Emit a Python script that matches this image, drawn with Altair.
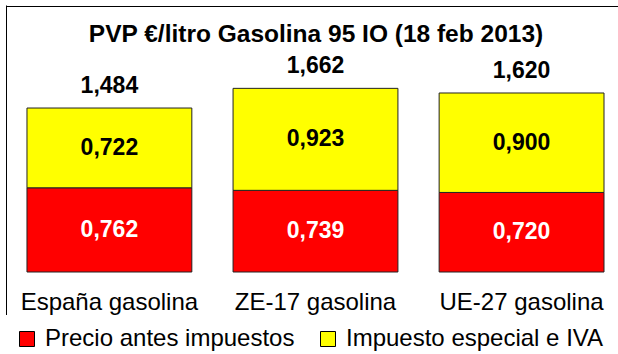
import altair as alt
import pandas as pd

# Retail fuel price per litre, split into pre-tax price and taxes
categories = ["España gasolina", "ZE-17 gasolina", "UE-27 gasolina"]
precio_antes = [0.762, 0.739, 0.720]
impuestos = [0.722, 0.923, 0.900]
componentes = ["Precio antes impuestos", "Impuesto especial e IVA"]
colores = ["#FF0000", "#FFFF00"]


def fmt(v):
    return f"{v:.3f}".replace(".", ",")


rows = []
for cat, a, b in zip(categories, precio_antes, impuestos):
    start = 0.0
    for comp, v in zip(componentes, (a, b)):
        rows.append({"cat": cat, "comp": comp, "value": v,
                     "start": start, "end": start + v,
                     "mid": start + v / 2, "label": fmt(v)})
        start += v
df = pd.DataFrame(rows)

totals = pd.DataFrame({
    "cat": categories,
    "total": [a + b for a, b in zip(precio_antes, impuestos)],
})
totals["label"] = totals["total"].map(fmt)

W, H = 611, 212
YMAX = 1.9186

x = alt.X("cat:N", sort=categories, title=None,
          scale=alt.Scale(paddingInner=0.2, paddingOuter=0.0824, align=0.588),
          axis=alt.Axis(domain=False, ticks=False, labelAngle=0, labelFontSize=24,
                        labelFont="Liberation Sans", labelColor="black",
                        labelPadding=18, labelLimit=400))
y_scale = alt.Scale(domain=[0, YMAX], nice=False, zero=True)

base = alt.Chart(df)

bars = base.mark_bar(stroke="#222222", strokeWidth=1).encode(
    x=x,
    y=alt.Y("start:Q", scale=y_scale, axis=None),
    y2="end:Q",
    color=alt.Color(
        "comp:N",
        scale=alt.Scale(domain=componentes, range=colores),
        legend=alt.Legend(
            title=None, orient="none", direction="horizontal",
            legendX=-4, legendY=255, padding=12, fillColor="white",
            symbolType="square", symbolSize=225, symbolStrokeColor="black",
            symbolStrokeWidth=1, symbolOpacity=1,
            labelFontSize=24, labelFont="Liberation Sans", labelColor="black",
            labelOffset=6, labelLimit=400, columnPadding=21,
        ),
    ),
)

inner_red = base.transform_filter(alt.datum.comp == componentes[0]).mark_text(
    font="Liberation Sans", fontWeight="bold", fontSize=23, color="white",
    baseline="middle",
).encode(x=x, y=alt.Y("mid:Q", scale=y_scale), text="label:N")

inner_yellow = base.transform_filter(alt.datum.comp == componentes[1]).mark_text(
    font="Liberation Sans", fontWeight="bold", fontSize=23, color="black",
    baseline="middle",
).encode(x=x, y=alt.Y("mid:Q", scale=y_scale), text="label:N")

total_text = alt.Chart(totals).mark_text(
    font="Liberation Sans", fontWeight="bold", fontSize=23, color="black",
    baseline="alphabetic", dy=-15,
).encode(x=x, y=alt.Y("total:Q", scale=y_scale), text="label:N")

# Outer frame: left and top edges
frame_src = alt.Chart(pd.DataFrame({"k": [0]}))
left_edge = frame_src.mark_rule(color="black", strokeWidth=1).encode(
    x=alt.value(-0.5), y=alt.value(-54.5), y2=alt.value(300))
top_edge = frame_src.mark_rule(color="black", strokeWidth=1).encode(
    x=alt.value(-0.5), x2=alt.value(620), y=alt.value(-53.5))

chart = alt.layer(
    bars, inner_red, inner_yellow, total_text, left_edge, top_edge
).properties(
    width=W, height=H,
    autosize=alt.AutoSizeParams(type="none"),
    padding={"left": 7, "top": 60, "right": 0, "bottom": 82},
    background="white",
    title=alt.Title(
        "PVP €/litro Gasolina 95 IO (18 feb 2013)",
        font="Liberation Sans", fontSize=24.5, fontWeight="bold", color="black",
        anchor="middle", frame="group", baseline="alphabetic", offset=-61, dx=3.5,
    ),
).configure_view(stroke="transparent")

chart.save("out.html", embed_options={"renderer": "svg", "actions": False})
